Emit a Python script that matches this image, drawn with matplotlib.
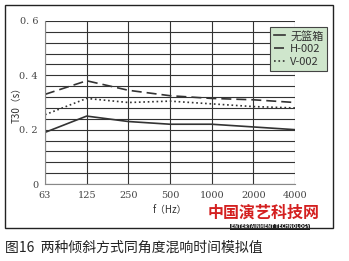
import matplotlib.pyplot as plt
import numpy as np

# 数据
freqs = ['63', '125', '250', '500', '1000', '2000', '4000']
t30_none = [0.19, 0.25, 0.23, 0.22, 0.22, 0.21, 0.20]
t30_h002 = [0.33, 0.38, 0.345, 0.325, 0.315, 0.31, 0.30]
t30_v002 = [0.255, 0.315, 0.30, 0.305, 0.295, 0.285, 0.28]
series_names = ['无篮箱', 'H-002', 'V-002']

plt.rcParams['font.family'] = ['Noto Sans CJK SC', 'DejaVu Sans']

fig = plt.figure(figsize=(3.49, 2.61), dpi=100)

# 外框
frame = plt.Rectangle((5/349, 1 - 228/261), 328/349, 223/261, transform=fig.transFigure,
                      fill=False, edgecolor='#222222', linewidth=1.0)
fig.patches.append(frame)

ax = fig.add_axes([45/349, 1 - 184/261, 250/349, 163/261])
x = np.arange(len(freqs))

ax.plot(x, t30_none, '-', color='#333333', linewidth=1.2, label=series_names[0])
ax.plot(x, t30_h002, '--', color='#333333', linewidth=1.2, dashes=(6, 3), label=series_names[1])
ax.plot(x, t30_v002, ':', color='#333333', linewidth=1.2, label=series_names[2])

ax.set_xlim(0, len(freqs) - 1)
ax.set_ylim(0, 0.6)
ax.set_xticks(x)
ax.set_xticklabels(freqs, fontsize=7, color='#444444', family='DejaVu Serif')
ax.set_yticks([0, 0.2, 0.4, 0.6])
ax.set_yticklabels(['0', '0. 2', '0. 4', '0. 6'], fontsize=7, color='#444444', family='DejaVu Serif')
ax.set_yticks(np.arange(0, 0.601, 0.04), minor=True)
ax.tick_params(axis='both', length=0, pad=5)
ax.tick_params(axis='y', which='minor', length=0)

ax.grid(axis='y', which='both', color='#333333', linewidth=0.8)
ax.grid(axis='x', which='major', color='#333333', linewidth=0.8)
ax.set_axisbelow(True)
for side in ['top', 'right']:
    ax.spines[side].set_visible(False)
for side in ['left', 'bottom']:
    ax.spines[side].set_color('#888888')

ax.set_xlabel('f（Hz）', fontsize=7, color='#333333', labelpad=4)
ax.set_ylabel('T30（s）', fontsize=7, color='#333333')
ax.yaxis.set_label_coords(-0.092, 0.5)

leg = fig.legend(loc='upper right', bbox_to_anchor=(333/349, 1 - 21/261), fontsize=8,
                 handlelength=1.0, handletextpad=0.5, borderpad=0.35, labelspacing=0.25,
                 frameon=True, fancybox=False, framealpha=1)
leg.get_frame().set_facecolor('#cfe6cc')
leg.get_frame().set_edgecolor('#444444')
leg.get_frame().set_linewidth(0.8)
for t in leg.get_texts():
    t.set_color('#333333')

# 水印
fig.text(208/349, 1 - 213/261, '中国演艺科技网', fontsize=11.5, color='#d42020',
         fontweight='bold', va='center')
fig.text(270/349, 1 - 227/261, 'ENTERTAINMENT TECHNOLOGY', fontsize=3.6, color='white',
         fontweight='bold', ha='center', va='center',
         bbox=dict(boxstyle='square,pad=0.15', facecolor='#222222', edgecolor='none'))

# 图注
fig.text(5/349, 1 - 248/261, '图16  两种倾斜方式同角度混响时间模拟值', fontsize=10,
         color='#222222', va='center')

plt.savefig('out.png', dpi=100, facecolor='white')
